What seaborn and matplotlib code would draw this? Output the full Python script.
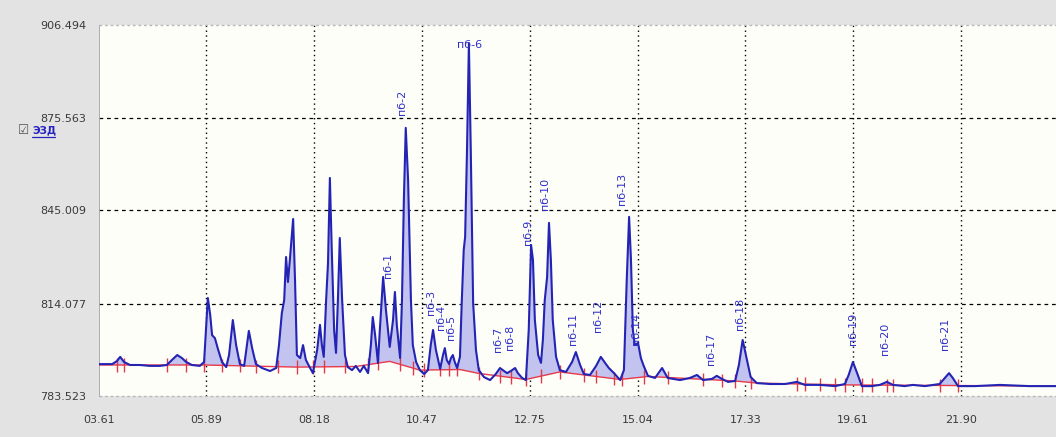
import matplotlib
matplotlib.use("Agg")
import matplotlib.pyplot as plt
import seaborn as sns
import numpy as np
from matplotlib.lines import Line2D
from matplotlib.ticker import FixedLocator, FixedFormatter, NullFormatter

# chromatogram trace (min, signal)
ret_time = [
    3.61, 3.89, 3.99, 4.06, 4.14, 4.27, 4.48, 4.69, 4.90, 5.05,
    5.16, 5.27, 5.37, 5.46, 5.58, 5.75, 5.84, 5.88, 5.92, 5.97,
    6.01, 6.07, 6.14, 6.22, 6.31, 6.37, 6.45, 6.52, 6.60, 6.69,
    6.75, 6.79, 6.86, 6.94, 7.07, 7.24, 7.37, 7.43, 7.49, 7.54,
    7.58, 7.62, 7.66, 7.73, 7.77, 7.81, 7.88, 7.94, 8.00, 8.09,
    8.15, 8.24, 8.30, 8.34, 8.38, 8.43, 8.47, 8.51, 8.55, 8.60,
    8.64, 8.68, 8.72, 8.77, 8.83, 8.89, 8.98, 9.06, 9.15, 9.23,
    9.32, 9.38, 9.42, 9.47, 9.53, 9.57, 9.64, 9.70, 9.78, 9.85,
    9.89, 9.93, 10.00, 10.04, 10.08, 10.12, 10.17, 10.19, 10.23, 10.27,
    10.34, 10.42, 10.51, 10.59, 10.65, 10.70, 10.76, 10.85, 10.91, 10.95,
    10.99, 11.04, 11.08, 11.12, 11.16, 11.21, 11.27, 11.31, 11.35, 11.38,
    11.42, 11.46, 11.50, 11.55, 11.61, 11.67, 11.78, 11.91, 12.03, 12.12,
    12.18, 12.27, 12.35, 12.44, 12.50, 12.59, 12.67, 12.73, 12.78, 12.82,
    12.86, 12.93, 12.99, 13.03, 13.07, 13.12, 13.16, 13.20, 13.24, 13.31,
    13.39, 13.52, 13.65, 13.73, 13.82, 13.90, 14.03, 14.16, 14.26, 14.35,
    14.43, 14.54, 14.67, 14.75, 14.81, 14.86, 14.90, 14.94, 14.98, 15.05,
    15.11, 15.17, 15.26, 15.41, 15.56, 15.68, 15.94, 16.15, 16.30, 16.43,
    16.62, 16.72, 16.83, 16.96, 17.11, 17.19, 17.27, 17.36, 17.44, 17.57,
    17.85, 18.17, 18.42, 18.59, 18.91, 19.23, 19.44, 19.52, 19.61, 19.69,
    19.80, 20.01, 20.18, 20.33, 20.46, 20.71, 20.88, 21.14, 21.45, 21.56,
    21.65, 21.73, 21.84, 22.20, 22.73, 23.36, 23.92,
]
signal = [
    794.1, 794.1, 795.1, 796.5, 794.8, 793.8, 793.8, 793.5, 793.5, 793.8,
    795.5, 797.1, 796.1, 794.8, 793.8, 793.5, 794.8, 805.4, 816.0, 810.4,
    803.7, 802.7, 798.8, 794.8, 793.1, 797.1, 808.7, 800.4, 794.1, 793.5,
    800.4, 805.1, 799.4, 794.1, 792.8, 791.8, 792.8, 800.4, 811.0, 815.3,
    829.6, 821.3, 828.6, 842.2, 822.0, 797.1, 796.1, 800.4, 795.5, 792.8,
    791.1, 798.8, 807.1, 800.4, 796.5, 815.3, 827.6, 855.8, 831.9, 805.4,
    797.8, 815.3, 835.9, 815.3, 797.1, 793.1, 792.1, 793.5, 791.5, 793.5,
    791.1, 800.4, 809.7, 803.7, 794.5, 805.4, 823.0, 812.0, 799.8, 808.7,
    818.0, 807.1, 796.1, 815.3, 848.5, 872.4, 855.1, 841.9, 815.3, 800.4,
    794.8, 792.1, 790.8, 792.1, 800.4, 805.4, 798.8, 792.5, 797.1, 799.4,
    795.5, 794.1, 796.1, 797.1, 794.8, 792.8, 796.5, 815.3, 831.9, 836.2,
    865.1, 900.5, 865.1, 814.4, 798.8, 792.1, 789.8, 788.8, 790.8, 792.8,
    792.1, 791.1, 791.8, 792.8, 791.1, 789.5, 788.8, 805.4, 833.6, 828.6,
    808.7, 797.1, 794.5, 802.1, 815.3, 823.0, 840.9, 828.6, 808.7, 796.5,
    792.1, 791.5, 794.8, 798.1, 793.8, 790.8, 790.5, 793.5, 796.5, 794.5,
    792.8, 791.1, 788.8, 792.1, 822.0, 842.9, 828.6, 805.4, 800.4, 801.1,
    796.1, 793.5, 790.2, 789.5, 792.8, 789.5, 788.8, 789.5, 790.5, 788.8,
    789.2, 790.2, 789.2, 788.2, 788.5, 793.8, 802.1, 795.5, 789.8, 787.8,
    787.5, 787.5, 788.2, 787.2, 787.2, 786.8, 787.5, 790.5, 794.8, 791.5,
    786.8, 786.8, 787.2, 788.2, 787.2, 786.8, 787.2, 786.8, 787.5, 789.5,
    791.1, 789.5, 786.8, 786.8, 787.2, 786.8, 786.8,
]

# integration baseline and peak boundaries
base_time = [3.61, 5.84, 7.81, 9.06, 9.78, 10.42, 11.27, 11.67, 12.67, 13.39,
             14.67, 15.26, 17.11, 17.57, 19.44, 23.92]
base_value = [793.8, 793.8, 793.1, 793.3, 795.0, 792.1, 792.3, 791.0, 789.0, 791.5,
              789.0, 790.0, 788.5, 787.8, 787.2, 786.8]
boundary_times = [3.99, 4.14, 5.05, 5.46, 5.84, 6.22, 6.60, 6.94, 7.41, 7.81,
                  8.15, 8.38, 8.83, 9.32, 9.53, 10.00, 10.27, 10.51, 10.85, 11.04,
                  11.21, 11.67, 12.12, 12.35, 12.67, 12.99, 13.39, 13.90, 14.16, 14.54,
                  14.71, 15.17, 15.68, 16.43, 16.83, 17.11, 17.44, 18.42, 18.59, 18.91,
                  19.23, 19.44, 19.80, 20.01, 20.33, 20.46, 21.45, 21.84]

# peak names and where their labels sit
peak_names = ["пб-1", "пб-2", "пб-3", "пб-4", "пб-5", "пб-6", "пб-7", "пб-8", "пб-9", "пб-10",
              "пб-11", "пб-12", "пб-13", "пб-14", "пб-17", "пб-18", "пб-19", "пб-20", "пб-21"]
peak_label_time = [9.74, 10.04, 10.65, 10.87, 11.08, 11.48, 12.08, 12.33, 12.71, 13.07,
                   13.67, 14.20, 14.71, 15.00, 16.60, 17.21, 19.61, 20.29, 21.56]
peak_label_value = [822.6, 876.7, 810.4, 805.4, 802.1, 899.9, 798.1, 798.8, 833.6, 845.2,
                    800.4, 804.7, 846.8, 800.4, 793.8, 805.4, 800.4, 797.1, 798.8]

x_ticks = [3.61, 5.89, 8.18, 10.47, 12.75, 15.04, 17.33, 19.61, 21.90]
x_tick_labels = ["03.61", "05.89", "08.18", "10.47", "12.75", "15.04", "17.33", "19.61", "21.90"]
y_ticks = [783.523, 814.077, 845.009, 875.563, 906.494]
y_tick_labels = ["783.523", "814.077", "845.009", "875.563", "906.494"]
channel_name = "ЭЗД"


def draw():
    sns.set_style("white")
    plt.rcParams['font.family'] = ['DejaVu Sans']

    fig = plt.figure(figsize=(10.56, 4.37), dpi=100)
    fig.patch.set_facecolor('#e3e3e3')
    ax = fig.add_axes([99 / 1056, 1 - 396 / 437, 957 / 1056, 371 / 437])
    ax.set_facecolor('#fefef9')

    t = np.array(ret_time)
    s = np.array(signal)
    b = np.interp(t, base_time, base_value)

    # integrated areas
    ax.fill_between(t, b, s, where=s > b, interpolate=True, color='#c3c3f0', lw=0, zorder=2)
    ax.plot(base_time, base_value, color='#e8394a', lw=1.0, zorder=3)
    bt = np.interp(boundary_times, base_time, base_value)
    ax.vlines(boundary_times, bt - 2.2, bt + 2.2, colors='#e03a48', lw=1.0, zorder=3)

    sns.lineplot(x=t, y=s, ax=ax, color='#2424b4', lw=1.5, sort=False,
                 estimator=None, zorder=4)

    ax.set_xlim(3.61, 23.92)
    ax.set_ylim(783.523, 906.494)

    # peak labels
    for name, lt, lv in zip(peak_names, peak_label_time, peak_label_value):
        if lv > 890:
            ax.text(lt, lv, name, rotation=0, ha='center', va='center',
                    fontsize=8, color='#3030c8', zorder=5)
        else:
            ax.text(lt, lv, name, rotation=90, ha='center', va='bottom',
                    fontsize=8, color='#3030c8', zorder=5)

    # grid
    for xv in x_ticks[1:]:
        ax.axvline(xv, color='black', lw=1.0, ls=(0, (1, 2.5)), zorder=1)
    for yv in y_ticks[1:-1]:
        ax.axhline(yv, color='black', lw=0.9, ls=(0, (3, 3)), zorder=1)
    for yv in (y_ticks[0], y_ticks[-1]):
        ax.axhline(yv, color='#b8b8b8', lw=1.0, ls=(0, (2, 2)), zorder=1, clip_on=False)

    # ticks
    ax.xaxis.set_major_locator(FixedLocator(x_ticks))
    ax.xaxis.set_major_formatter(FixedFormatter(x_tick_labels))
    step = (x_ticks[1] - x_ticks[0]) / 6
    xminor = np.arange(x_ticks[0], 23.92, step)
    ax.xaxis.set_minor_locator(FixedLocator(xminor))
    ax.xaxis.set_minor_formatter(NullFormatter())

    ax.yaxis.set_major_locator(FixedLocator(y_ticks))
    ax.yaxis.set_major_formatter(FixedFormatter(y_tick_labels))
    yminor = np.concatenate([np.linspace(a, c, 6)[1:-1] for a, c in zip(y_ticks[:-1], y_ticks[1:])])
    ax.yaxis.set_minor_locator(FixedLocator(yminor))
    ax.yaxis.set_minor_formatter(NullFormatter())

    for side in ['top', 'right', 'bottom']:
        ax.spines[side].set_visible(False)
    ax.spines['bottom'].set_position(('outward', 7))
    ax.spines['left'].set_color('#a0a0a0')
    ax.spines['left'].set_linewidth(0.6)

    ax.tick_params(axis='x', which='major', direction='inout', length=8, width=1.3,
                   color='#222222', labelsize=8, labelcolor='#3a3a3a', pad=3)
    ax.tick_params(axis='x', which='minor', direction='inout', length=3, width=1.0,
                   color='#444444')
    ax.tick_params(axis='y', which='major', direction='out', length=6, width=1.0,
                   color='#333333', labelsize=8, labelcolor='#3a3a3a', pad=3)
    ax.tick_params(axis='y', which='minor', direction='out', length=3, width=1.0,
                   color='#444444')

    # channel checkbox, just under the 875.563 label
    fig.text(18 / 1056, 1 - 130 / 437, "☑", fontsize=9, color='#555555',
             ha='left', va='center', family=['DejaVu Sans'])
    fig.text(32 / 1056, 1 - 130 / 437, channel_name, fontsize=7.5, color='#2424c0',
             fontweight='bold', ha='left', va='center')
    fig.lines.append(Line2D([32 / 1056, 55 / 1056], [1 - 137 / 437, 1 - 137 / 437],
                            transform=fig.transFigure, color='#2424c0', lw=0.9))

    fig.savefig('out.png', dpi=100, facecolor=fig.get_facecolor())
    plt.close(fig)


if __name__ == "__main__":
    draw()
